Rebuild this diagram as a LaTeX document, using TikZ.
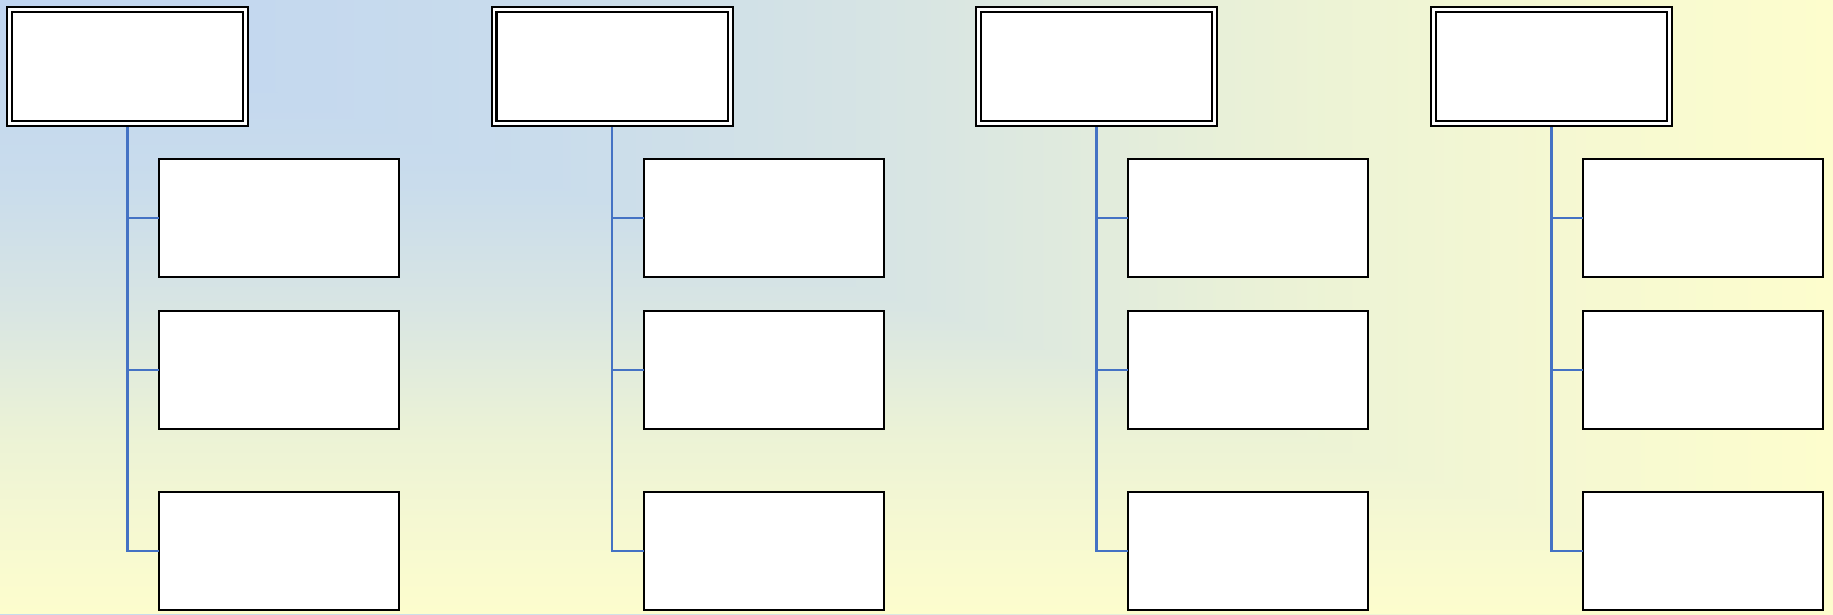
\documentclass[tikz,border=0pt]{standalone}
\usetikzlibrary{%
	positioning
}
\definecolor{bgA}{RGB}{192,213,241}
\definecolor{bgB}{RGB}{201,220,236}
\definecolor{bgC}{RGB}{216,229,227}
\definecolor{bgD}{RGB}{235,242,214}
\definecolor{bgE}{RGB}{245,248,210}
\definecolor{bgF}{RGB}{253,253,205}
\definecolor{linkblue}{RGB}{68,114,196}
\pgfdeclarehorizontalshading{bgrow}{100bp}{color(0bp)=(bgA); color(25bp)=(bgA); color(40bp)=(bgB); color(50bp)=(bgC); color(60bp)=(bgD); color(67.5bp)=(bgE); color(75bp)=(bgF); color(100bp)=(bgF)}
\pgfdeclareverticalshading{bgcol}{100bp}{color(0bp)=(bgF); color(25bp)=(bgF); color(32.5bp)=(bgE); color(40bp)=(bgD); color(50bp)=(bgC); color(60bp)=(bgB); color(75bp)=(bgA); color(100bp)=(bgA)}

\begin{document}
\begin{tikzpicture}[
		HeadBox/.style={draw,double=white,line width=.57pt,double distance=.85pt,fill=white,minimum width=2.36cm,minimum height=1.14cm,inner sep=0pt,outer sep=0pt},
		ItemBox/.style={draw,fill=white,line width=.57pt,minimum width=2.40cm,minimum height=1.18cm,inner sep=0pt,outer sep=0pt},
		link/.style={draw=linkblue,line width=.7pt,shorten <=.0375cm}
	]
	
		\useasboundingbox (0,0) rectangle (18.33,-6.14);
		% background: rectangular glow out of the top left corner
		\shade [shading=bgrow] (0,0) rectangle (18.33,-6.14);
		\shade [shading=bgcol] (0,0) -- (0,-6.14) -- (18.33,-6.14) -- cycle;
		
		\node(H1) [HeadBox, anchor=north] at (1.275,-0.095) {};
		\node(C11) [ItemBox, below right=0.355cm and 0.315cm of H1.south] {};
		\node(C12) [ItemBox, below=0.34cm of C11] {};
		\node(C13) [ItemBox, below=0.63cm of C12] {};
		\draw [link] (H1.south) |- (C11.west);
		\draw [link] (H1.south) |- (C12.west);
		\draw [link] (H1.south) |- (C13.west);
		
		\node(H2) [HeadBox, right=2.485cm of H1] {};
		\node(C21) [ItemBox, below right=0.355cm and 0.315cm of H2.south] {};
		\node(C22) [ItemBox, below=0.34cm of C21] {};
		\node(C23) [ItemBox, below=0.63cm of C22] {};
		\draw [link] (H2.south) |- (C21.west);
		\draw [link] (H2.south) |- (C22.west);
		\draw [link] (H2.south) |- (C23.west);
		
		\node(H3) [HeadBox, right=2.485cm of H2] {};
		\node(C31) [ItemBox, below right=0.355cm and 0.315cm of H3.south] {};
		\node(C32) [ItemBox, below=0.34cm of C31] {};
		\node(C33) [ItemBox, below=0.63cm of C32] {};
		\draw [link] (H3.south) |- (C31.west);
		\draw [link] (H3.south) |- (C32.west);
		\draw [link] (H3.south) |- (C33.west);
		
		\node(H4) [HeadBox, right=2.19cm of H3] {};
		\node(C41) [ItemBox, below right=0.355cm and 0.315cm of H4.south] {};
		\node(C42) [ItemBox, below=0.34cm of C41] {};
		\node(C43) [ItemBox, below=0.63cm of C42] {};
		\draw [link] (H4.south) |- (C41.west);
		\draw [link] (H4.south) |- (C42.west);
		\draw [link] (H4.south) |- (C43.west);
		
	\end{tikzpicture}
\end{document}
